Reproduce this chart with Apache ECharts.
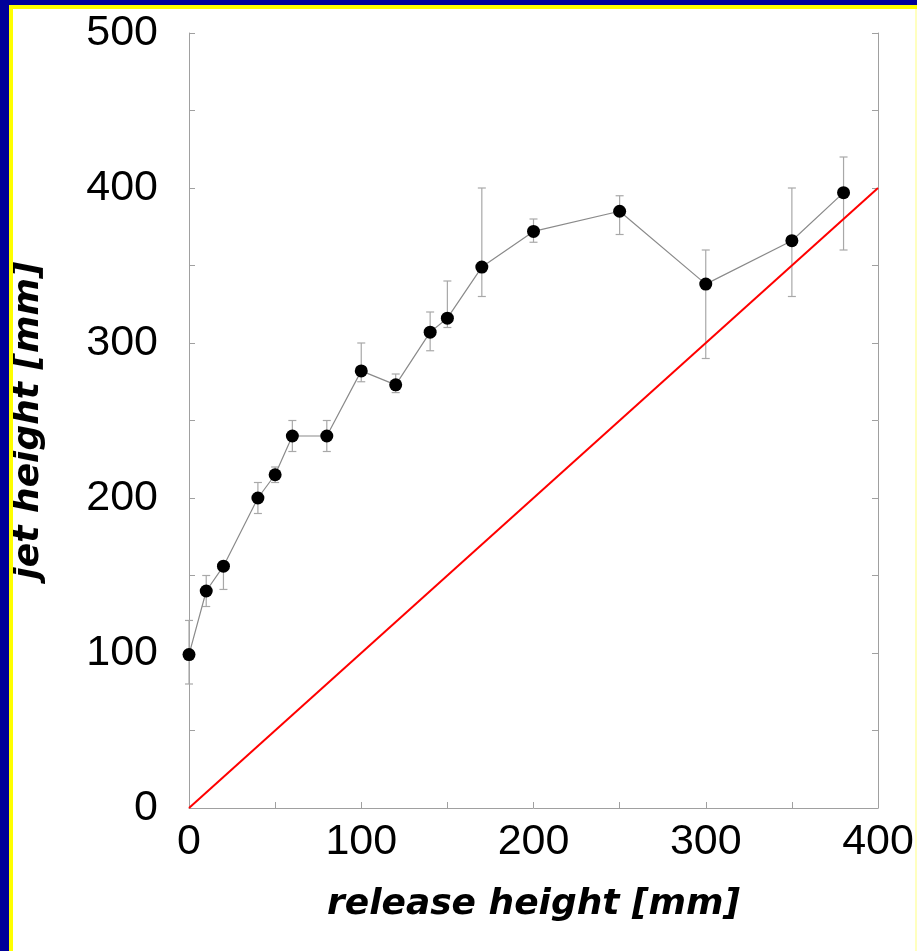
<!DOCTYPE html>
<html>
<head>
<meta charset="utf-8">
<script src="https://cdn.jsdelivr.net/npm/echarts@6/dist/echarts.min.js"></script>
<style>
html,body{margin:0;padding:0;background:#fff;}
#chart{width:917px;height:951px;}
</style>
</head>
<body>
<div id="chart"></div>
<script>
// release height [mm]
const releaseHeight = [0, 10, 20, 40, 50, 60, 80, 100, 120, 140, 150, 170, 200, 250, 300, 350, 380];
// jet height [mm]
const jetHeight = [99, 140, 156, 200, 215, 240, 240, 282, 273, 307, 316, 349, 372, 385, 338, 366, 397];
const errLow  = [80, 130, 141, 190, 210, 230, 230, 275, 268, 295, 310, 330, 365, 370, 290, 330, 360];
const errHigh = [121, 150, 158, 210, 220, 250, 250, 300, 280, 320, 340, 400, 380, 395, 360, 400, 420];
// reference line y = x
const refLineX = [0, 400];
const refLineY = [0, 400];
const xTicks = [0, 100, 200, 300, 400];
const yTicks = [0, 100, 200, 300, 400, 500];

const chart = echarts.init(document.getElementById('chart'));
const axisGray = '#a0a0a0';
const labelFont = {fontFamily: 'Liberation Sans', fontSize: 43, color: '#000'};
const titleFont = {fontFamily: 'DejaVu Sans', fontSize: 36, fontWeight: 'bold', fontStyle: 'italic', color: '#000'};

const points = releaseHeight.map((x, i) => [x, jetHeight[i]]);
const errData = releaseHeight.map((x, i) => [x, errLow[i], errHigh[i]]);
const refData = refLineX.map((x, i) => [x, refLineY[i]]);

chart.setOption({
  animation: false,
  backgroundColor: '#fff',
  graphic: [
    {type: 'rect', shape: {x: 0, y: 0, width: 917, height: 5}, style: {fill: '#000099'}, z: 100},
    {type: 'rect', shape: {x: 0, y: 0, width: 9, height: 951}, style: {fill: '#000099'}, z: 100},
    {type: 'rect', shape: {x: 9, y: 5, width: 908, height: 4}, style: {fill: '#ffff00'}, z: 100},
    {type: 'rect', shape: {x: 9, y: 5, width: 4, height: 946}, style: {fill: '#ffff00'}, z: 100},
    {type: 'rect', shape: {x: 915, y: 9, width: 2, height: 942}, style: {fill: '#ffffc0'}, z: 100}
  ],
  grid: {left: 189, right: 39, top: 33, bottom: 143, containLabel: false},
  xAxis: {
    type: 'value', min: 0, max: 400, interval: 100,
    name: 'release height [mm]', nameLocation: 'middle', nameGap: 79,
    nameTextStyle: titleFont,
    axisLine: {show: true, lineStyle: {color: axisGray, width: 1}},
    axisTick: {show: true, inside: true, length: 6, lineStyle: {color: axisGray}},
    minorTick: {show: true, splitNumber: 2, length: 6, lineStyle: {color: axisGray}},
    axisLabel: Object.assign({margin: 13, formatter: v => xTicks.includes(v) ? String(v) : ''}, labelFont),
    splitLine: {show: false}
  },
  yAxis: [{
    type: 'value', min: 0, max: 500, interval: 100,
    name: 'jet height [mm]', nameLocation: 'middle', nameGap: 142, nameRotate: 90,
    nameTextStyle: titleFont,
    axisLine: {show: true, lineStyle: {color: axisGray, width: 1}},
    axisTick: {show: true, inside: true, length: 6, lineStyle: {color: axisGray}},
    minorTick: {show: true, splitNumber: 2, length: 6, lineStyle: {color: axisGray}},
    axisLabel: Object.assign({margin: 31, formatter: v => yTicks.includes(v) ? String(v) : ''}, labelFont),
    splitLine: {show: false}
  }, {
    type: 'value', min: 0, max: 500, interval: 100, position: 'right',
    axisLine: {show: true, onZero: false, lineStyle: {color: axisGray, width: 1}},
    axisTick: {show: true, inside: true, length: 6, lineStyle: {color: axisGray}},
    minorTick: {show: true, splitNumber: 2, length: 6, lineStyle: {color: axisGray}},
    axisLabel: {show: false},
    splitLine: {show: false}
  }],
  series: [
    {
      type: 'custom', z: 2,
      data: errData,
      renderItem: function (params, api) {
        const x = api.value(0);
        const lo = api.coord([x, api.value(1)]);
        const hi = api.coord([x, api.value(2)]);
        const w = 4;
        const st = {stroke: '#a8a8a8', lineWidth: 1.2};
        return {type: 'group', children: [
          {type: 'line', shape: {x1: lo[0], y1: lo[1], x2: hi[0], y2: hi[1]}, style: st},
          {type: 'line', shape: {x1: lo[0] - w, y1: lo[1], x2: lo[0] + w, y2: lo[1]}, style: st},
          {type: 'line', shape: {x1: hi[0] - w, y1: hi[1], x2: hi[0] + w, y2: hi[1]}, style: st}
        ]};
      }
    },
    {
      type: 'line', z: 3, data: refData, symbol: 'none',
      lineStyle: {color: '#ff0000', width: 2}
    },
    {
      type: 'line', z: 4, data: points,
      symbol: 'circle', symbolSize: 13,
      itemStyle: {color: '#000'},
      lineStyle: {color: '#8a8a8a', width: 1.2}
    }
  ]
});
</script>
</body>
</html>
